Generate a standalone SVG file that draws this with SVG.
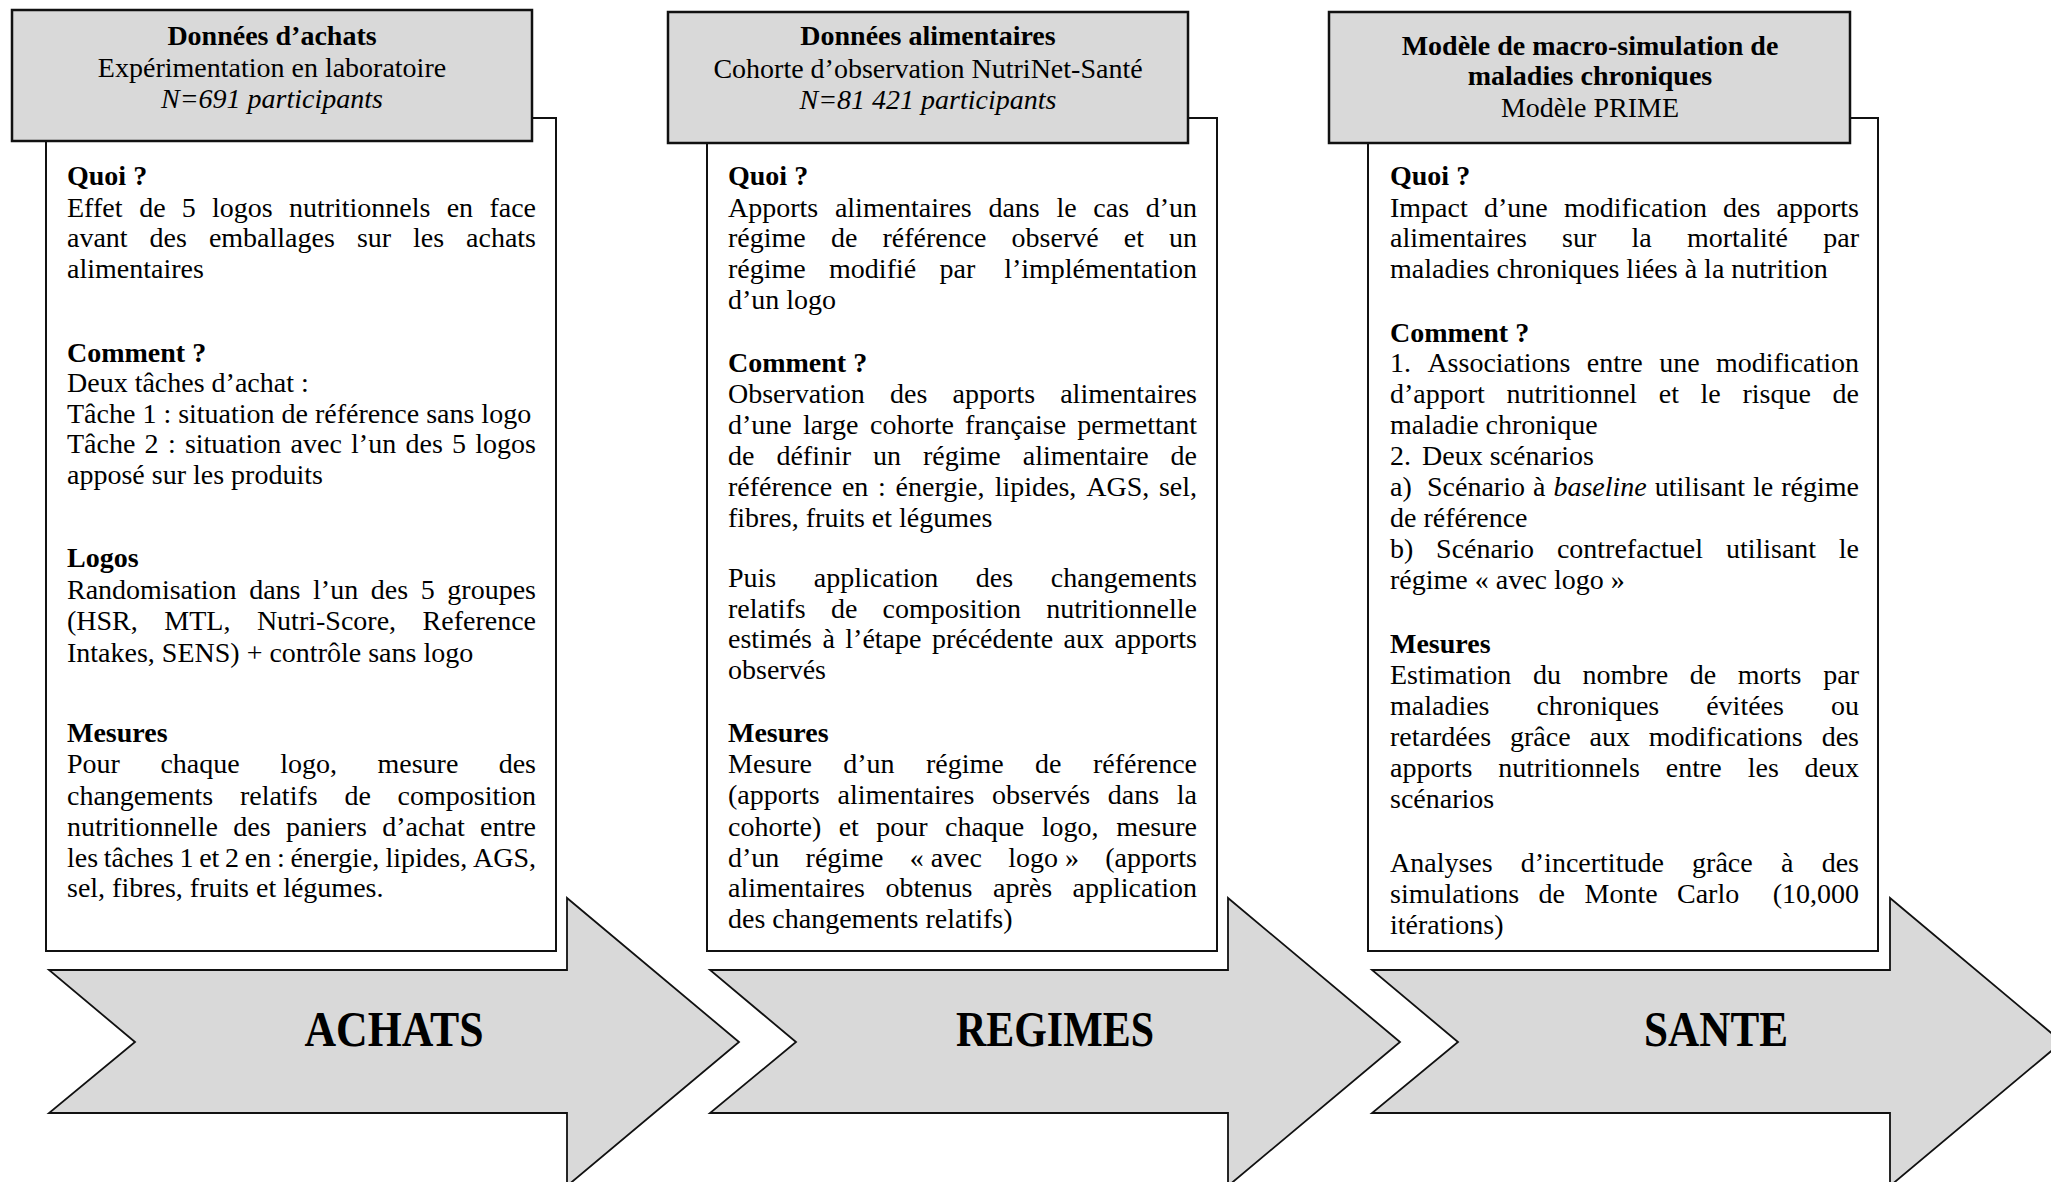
<svg xmlns="http://www.w3.org/2000/svg" width="2051" height="1182" viewBox="0 0 2051 1182">
<style>
.bg{fill:#ffffff}
.head{fill:#d9d9d9;stroke:#111;stroke-width:2.5}
.body{fill:#ffffff;stroke:#111;stroke-width:2}
.arrow{fill:#d9d9d9;stroke:#111;stroke-width:1.8;stroke-linejoin:miter}
text{font-family:"Liberation Serif","Times New Roman",serif;font-size:28px;fill:#000}
.b{font-weight:bold}
.i{font-style:italic}
.c{text-anchor:middle}
.big{font-size:50px;font-weight:bold;text-anchor:middle}
</style>
<rect class="bg" x="0" y="0" width="2051" height="1182"/>

<g id="stage-achats">
<polygon class="arrow" points="49,970 567,970 567,898 739,1042 567,1186 567,1113 49,1113 135,1042"/>
<text class="big" x="394" y="1046" textLength="179" lengthAdjust="spacingAndGlyphs">ACHATS</text>
</g>
<g id="stage-regimes">
<polygon class="arrow" points="710,970 1228,970 1228,898 1400,1042 1228,1186 1228,1113 710,1113 796,1042"/>
<text class="big" x="1055" y="1046" textLength="198" lengthAdjust="spacingAndGlyphs">REGIMES</text>
</g>
<g id="stage-sante">
<polygon class="arrow" points="1372,970 1890,970 1890,898 2062,1042 1890,1186 1890,1113 1372,1113 1458,1042"/>
<text class="big" x="1716" y="1046" textLength="144" lengthAdjust="spacingAndGlyphs">SANTE</text>
</g>

<g id="connectors"/>

<g id="box-achats">
<rect class="body" x="46" y="118" width="510" height="833"/>
<rect class="head" x="12" y="10" width="520" height="131"/>
<text class="c b" x="272" y="45">Données d’achats</text>
<text class="c" x="272" y="77">Expérimentation en laboratoire</text>
<text class="c i" x="272" y="108">N=691 participants</text>

<text class="b" x="67" y="185">Quoi ?</text>
<text y="217"><tspan x="67">Effet</tspan><tspan x="139.2">de</tspan><tspan x="181.8">5</tspan><tspan x="212">logos</tspan><tspan x="288.9">nutritionnels</tspan><tspan x="446.7">en</tspan><tspan x="536" text-anchor="end">face</tspan></text>
<text y="247"><tspan x="67">avant</tspan><tspan x="149.6">des</tspan><tspan x="208.9">emballages</tspan><tspan x="356.9">sur</tspan><tspan x="413.1">les</tspan><tspan x="536" text-anchor="end">achats</tspan></text>
<text x="67" y="278">alimentaires</text>

<text class="b" x="67" y="362">Comment ?</text>
<text x="67" y="392">Deux tâches d’achat :</text>
<text x="67" y="423">Tâche 1 : situation de référence sans logo</text>
<text y="453"><tspan x="67">Tâche</tspan><tspan x="144.6">2</tspan><tspan x="167.9">:</tspan><tspan x="184.9">situation</tspan><tspan x="290.6">avec</tspan><tspan x="351.1">l’un</tspan><tspan x="405.5">des</tspan><tspan x="452">5</tspan><tspan x="536" text-anchor="end">logos</tspan></text>
<text x="67" y="484">apposé sur les produits</text>

<text class="b" x="67" y="567">Logos</text>
<text y="599"><tspan x="67">Randomisation</tspan><tspan x="249.2">dans</tspan><tspan x="313.1">l’un</tspan><tspan x="370.8">des</tspan><tspan x="420.7">5</tspan><tspan x="536" text-anchor="end">groupes</tspan></text>
<text y="630"><tspan x="67">(HSR,</tspan><tspan x="164.3">MTL,</tspan><tspan x="256.9">Nutri-Score,</tspan><tspan x="536" text-anchor="end">Reference</tspan></text>
<text x="67" y="662">Intakes, SENS) + contrôle sans logo</text>

<text class="b" x="67" y="742">Mesures</text>
<text y="773"><tspan x="67">Pour</tspan><tspan x="160.4">chaque</tspan><tspan x="280.2">logo,</tspan><tspan x="377.5">mesure</tspan><tspan x="536" text-anchor="end">des</tspan></text>
<text y="805"><tspan x="67">changements</tspan><tspan x="239.9">relatifs</tspan><tspan x="344.4">de</tspan><tspan x="536" text-anchor="end">composition</tspan></text>
<text y="836"><tspan x="67">nutritionnelle</tspan><tspan x="233.3">des</tspan><tspan x="286">paniers</tspan><tspan x="382.3">d’achat</tspan><tspan x="536" text-anchor="end">entre</tspan></text>
<text y="867"><tspan x="67">les</tspan><tspan x="103.8">tâches</tspan><tspan x="179.5">1</tspan><tspan x="199.2">et</tspan><tspan x="225.1">2</tspan><tspan x="244.8">en</tspan><tspan x="276.9">:</tspan><tspan x="290.4">énergie,</tspan><tspan x="385.5">lipides,</tspan><tspan x="536" text-anchor="end">AGS,</tspan></text>
<text x="67" y="897">sel, fibres, fruits et légumes.</text>
</g>

<g id="box-regimes">
<rect class="body" x="707" y="118" width="510" height="833"/>
<rect class="head" x="668" y="12" width="520" height="131"/>
<text class="c b" x="928" y="45">Données alimentaires</text>
<text class="c" x="928" y="78">Cohorte d’observation NutriNet-Santé</text>
<text class="c i" x="928" y="109">N=81 421 participants</text>

<text class="b" x="728" y="185">Quoi ?</text>
<text y="217"><tspan x="728">Apports</tspan><tspan x="834.9">alimentaires</tspan><tspan x="988.4">dans</tspan><tspan x="1056.4">le</tspan><tspan x="1093.3">cas</tspan><tspan x="1197" text-anchor="end">d’un</tspan></text>
<text y="247"><tspan x="728">régime</tspan><tspan x="830.9">de</tspan><tspan x="882.4">référence</tspan><tspan x="1011.6">observé</tspan><tspan x="1123.8">et</tspan><tspan x="1197" text-anchor="end">un</tspan></text>
<text y="278"><tspan x="728">régime</tspan><tspan x="829.1">modifié</tspan><tspan x="939.5">par</tspan><tspan x="1197" text-anchor="end">l’implémentation</tspan></text>
<text x="728" y="309">d’un logo</text>

<text class="b" x="728" y="372">Comment ?</text>
<text y="403"><tspan x="728">Observation</tspan><tspan x="890.1">des</tspan><tspan x="952.6">apports</tspan><tspan x="1197" text-anchor="end">alimentaires</tspan></text>
<text y="434"><tspan x="728">d’une</tspan><tspan x="802.9">large</tspan><tspan x="870">cohorte</tspan><tspan x="965.1">française</tspan><tspan x="1197" text-anchor="end">permettant</tspan></text>
<text y="465"><tspan x="728">de</tspan><tspan x="776.4">définir</tspan><tspan x="873">un</tspan><tspan x="923">régime</tspan><tspan x="1022.8">alimentaire</tspan><tspan x="1197" text-anchor="end">de</tspan></text>
<text y="496"><tspan x="728">référence</tspan><tspan x="841.9">en</tspan><tspan x="878">:</tspan><tspan x="895.6">énergie,</tspan><tspan x="994.7">lipides,</tspan><tspan x="1086.2">AGS,</tspan><tspan x="1197" text-anchor="end">sel,</tspan></text>
<text x="728" y="527">fibres, fruits et légumes</text>

<text y="587"><tspan x="728">Puis</tspan><tspan x="813.8">application</tspan><tspan x="975.8">des</tspan><tspan x="1197" text-anchor="end">changements</tspan></text>
<text y="618"><tspan x="728">relatifs</tspan><tspan x="831">de</tspan><tspan x="882.6">composition</tspan><tspan x="1197" text-anchor="end">nutritionnelle</tspan></text>
<text y="648"><tspan x="728">estimés</tspan><tspan x="822.4">à</tspan><tspan x="845.3">l’étape</tspan><tspan x="931.9">précédente</tspan><tspan x="1063.6">aux</tspan><tspan x="1197" text-anchor="end">apports</tspan></text>
<text x="728" y="679">observés</text>

<text class="b" x="728" y="742">Mesures</text>
<text y="773"><tspan x="728">Mesure</tspan><tspan x="843.3">d’un</tspan><tspan x="926">régime</tspan><tspan x="1035.1">de</tspan><tspan x="1197" text-anchor="end">référence</tspan></text>
<text y="804"><tspan x="728">(apports</tspan><tspan x="837.5">alimentaires</tspan><tspan x="992.1">observés</tspan><tspan x="1107.8">dans</tspan><tspan x="1197" text-anchor="end">la</tspan></text>
<text y="836"><tspan x="728">cohorte)</tspan><tspan x="838.7">et</tspan><tspan x="876.3">pour</tspan><tspan x="945">chaque</tspan><tspan x="1041.7">logo,</tspan><tspan x="1197" text-anchor="end">mesure</tspan></text>
<text y="867"><tspan x="728">d’un</tspan><tspan x="805.6">régime</tspan><tspan x="909.7">« avec</tspan><tspan x="1008.3">logo »</tspan><tspan x="1197" text-anchor="end">(apports</tspan></text>
<text y="897"><tspan x="728">alimentaires</tspan><tspan x="885.4">obtenus</tspan><tspan x="993">après</tspan><tspan x="1197" text-anchor="end">application</tspan></text>
<text x="728" y="928">des changements relatifs)</text>
</g>

<g id="box-sante">
<rect class="body" x="1368" y="118" width="510" height="833"/>
<rect class="head" x="1329" y="12" width="521" height="131"/>
<text class="c b" x="1590" y="55">Modèle de macro-simulation de</text>
<text class="c b" x="1590" y="85">maladies chroniques</text>
<text class="c" x="1590" y="117">Modèle PRIME</text>

<text class="b" x="1390" y="185">Quoi ?</text>
<text y="217"><tspan x="1390">Impact</tspan><tspan x="1483.9">d’une</tspan><tspan x="1563.9">modification</tspan><tspan x="1723.1">des</tspan><tspan x="1859" text-anchor="end">apports</tspan></text>
<text y="247"><tspan x="1390">alimentaires</tspan><tspan x="1562.1">sur</tspan><tspan x="1631.5">la</tspan><tspan x="1686.9">mortalité</tspan><tspan x="1859" text-anchor="end">par</tspan></text>
<text x="1390" y="278">maladies chroniques liées à la nutrition</text>

<text class="b" x="1390" y="342">Comment ?</text>
<text y="372"><tspan x="1390">1.</tspan><tspan x="1427.4">Associations</tspan><tspan x="1586.8">entre</tspan><tspan x="1659.2">une</tspan><tspan x="1859" text-anchor="end">modification</tspan></text>
<text y="403"><tspan x="1390">d’apport</tspan><tspan x="1506.5">nutritionnel</tspan><tspan x="1658.8">et</tspan><tspan x="1700.6">le</tspan><tspan x="1742.4">risque</tspan><tspan x="1859" text-anchor="end">de</tspan></text>
<text x="1390" y="434">maladie chronique</text>
<text y="465"><tspan x="1390">2.</tspan><tspan x="1422">Deux scénarios</tspan></text>
<text y="496"><tspan x="1390">a)</tspan><tspan x="1427">Scénario</tspan><tspan x="1533">à</tspan><tspan x="1553.4" class="i">baseline</tspan><tspan x="1654.7">utilisant</tspan><tspan x="1752.9">le</tspan><tspan x="1859" text-anchor="end">régime</tspan></text>
<text x="1390" y="527">de référence</text>
<text y="558"><tspan x="1390">b)</tspan><tspan x="1436.1">Scénario</tspan><tspan x="1556.9">contrefactuel</tspan><tspan x="1725.9">utilisant</tspan><tspan x="1859" text-anchor="end">le</tspan></text>
<text x="1390" y="589">régime « avec logo »</text>

<text class="b" x="1390" y="653">Mesures</text>
<text y="684"><tspan x="1390">Estimation</tspan><tspan x="1533">du</tspan><tspan x="1582.6">nombre</tspan><tspan x="1689.7">de</tspan><tspan x="1737.7">morts</tspan><tspan x="1859" text-anchor="end">par</tspan></text>
<text y="715"><tspan x="1390">maladies</tspan><tspan x="1536.4">chroniques</tspan><tspan x="1706.2">évitées</tspan><tspan x="1859" text-anchor="end">ou</tspan></text>
<text y="746"><tspan x="1390">retardées</tspan><tspan x="1510">grâce</tspan><tspan x="1589.5">aux</tspan><tspan x="1648.8">modifications</tspan><tspan x="1859" text-anchor="end">des</tspan></text>
<text y="777"><tspan x="1390">apports</tspan><tspan x="1498.3">nutritionnels</tspan><tspan x="1665.8">entre</tspan><tspan x="1747.7">les</tspan><tspan x="1859" text-anchor="end">deux</tspan></text>
<text x="1390" y="808">scénarios</text>

<text y="872"><tspan x="1390">Analyses</tspan><tspan x="1520.8">d’incertitude</tspan><tspan x="1692.1">grâce</tspan><tspan x="1780.9">à</tspan><tspan x="1859" text-anchor="end">des</tspan></text>
<text y="903"><tspan x="1390">simulations</tspan><tspan x="1538.6">de</tspan><tspan x="1584.5">Monte</tspan><tspan x="1677">Carlo</tspan><tspan x="1859" text-anchor="end">(10,000</tspan></text>
<text x="1390" y="934">itérations)</text>
</g>
</svg>
